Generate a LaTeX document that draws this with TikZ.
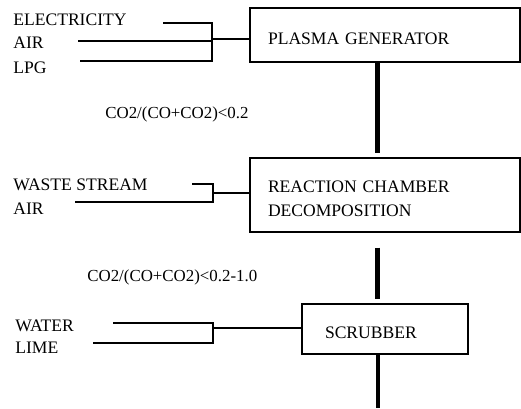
\documentclass[tikz,border=0pt]{standalone}
\usepackage{fontspec}
\setmainfont{Liberation Serif}
\usepackage{tikz}
\usetikzlibrary{positioning}

\begin{document}
\begin{tikzpicture}[
    stage/.style={draw, line width=0.8pt, align=left, inner ysep=0pt, text height=11pt, font=\fontsize{10}{13.6}\selectfont},
    feed/.style={anchor=west, inner sep=0pt, font=\fontsize{10}{12}\selectfont},
    ratio/.style={anchor=west, inner sep=0pt, font=\fontsize{9.6}{12}\selectfont},
    inlet/.style={line width=1.2pt},
    link/.style={line width=1pt},
    trunk/.style={line width=2.3pt}
]
    \useasboundingbox (0,0) rectangle (10.42,-8.16);

    % The three process stages
    \node[stage, minimum width=5.4cm, minimum height=1.08cm, inner xsep=0.36cm, text width=4.68cm]
        (pg) at (7.70,-0.70) {PLASMA GENERATOR};
    \node[stage, minimum width=5.4cm, minimum height=1.48cm, inner xsep=0.36cm, text width=4.68cm]
        (rc) at (7.70,-3.90) {REACTION CHAMBER\\DECOMPOSITION};
    \node[stage, minimum width=3.32cm, minimum height=1.0cm, inner xsep=0.46cm, text width=2.40cm]
        (sc) at (7.70,-6.58) {SCRUBBER};

    % Feeds and their labels
    \node[feed] (elec) at (0.26,-0.40) {ELECTRICITY};
    \node[feed] (air1) at (0.26,-0.86) {AIR};
    \node[feed] (lpg) at (0.26,-1.36) {LPG};
    \node[feed] (waste) at (0.26,-3.70) {WASTE STREAM};
    \node[feed] (air2) at (0.26,-4.18) {AIR};
    \node[feed] (water) at (0.30,-6.52) {WATER};
    \node[feed] (lime) at (0.30,-6.96) {LIME};

    % Gas ratios between the stages
    \node[ratio] (r1) at (2.10,-2.28) {CO2/(CO+CO2)<0.2};
    \node[ratio] (r2) at (1.74,-5.54) {CO2/(CO+CO2)<0.2-1.0};

    % Start points of the feed lines and the joints
    \coordinate (elec_in) at (3.26,-0.46);
    \coordinate (air1_in) at (1.56,-0.82);
    \coordinate (lpg_in) at (1.60,-1.22);
    \coordinate (j1) at (4.24,-0.78);

    \coordinate (waste_in) at (3.84,-3.68);
    \coordinate (air2_in) at (1.50,-4.04);
    \coordinate (j2) at (4.26,-3.86);

    \coordinate (water_in) at (2.26,-6.46);
    \coordinate (lime_in) at (1.86,-6.86);
    \coordinate (j3) at (4.26,-6.56);

    \coordinate (axis) at (7.55,0);
    \coordinate (exit) at (7.56,-8.16);

    % Plasma generator feeds
    \draw[inlet] (elec_in) -- (elec_in -| j1) -- (lpg_in -| j1) -- (lpg_in);
    \draw[inlet] (air1_in) -- (air1_in -| j1);
    \draw[link] (j1) -- (j1 -| pg.west);

    % Reaction chamber feeds
    \draw[inlet] (waste_in) -- (waste_in -| j2) -- (air2_in -| j2) -- (air2_in);
    \draw[link] (j2) -- (j2 -| rc.west);

    % Scrubber feeds
    \draw[inlet] (water_in) -- (water_in -| j3) -- (lime_in -| j3) -- (lime_in);
    \draw[link] (j3) -- (j3 -| sc.west);

    % Main gas path
    \draw[trunk, shorten >=0.08cm] (pg.south -| axis) -- (rc.north -| axis);
    \draw[trunk, shorten <=0.3cm, shorten >=0.08cm] (rc.south -| axis) -- (sc.north -| axis);
    \draw[trunk] (sc.south -| exit) -- (exit);

\end{tikzpicture}
\end{document}
